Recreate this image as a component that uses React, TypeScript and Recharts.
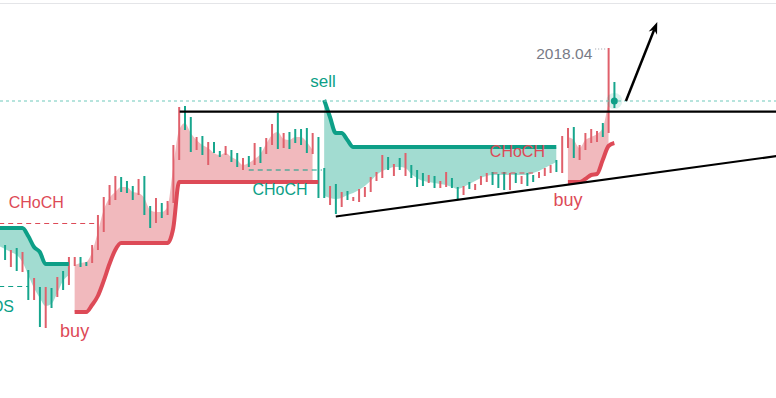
import React from 'react';
import {
  ComposedChart,
  Bar,
  Cell,
  Line,
  Area,
  XAxis,
  YAxis,
  ReferenceLine,
  ReferenceDot,
} from 'recharts';

// ---------- data ----------
// candle index 0..105, price values
const candleHigh = [
  1821, 1816, 1818, 1814, 1796, 1788, 1779, 1779, 1778, 1789,
  1795, 1809, 1809, 1809, 1804, 1821, 1851, 1869, 1881, 1890,
  1889, 1885, 1880, 1887, 1890, 1860, 1868, 1863, 1865, 1921,
  1959, 1960, 1949, 1929, 1930, 1924, 1924, 1915, 1920, 1916,
  1913, 1908, 1910, 1923, 1919, 1928, 1942, 1953, 1933, 1934,
  1937, 1937, 1938, 1933, 1929, 1898, 1880, 1882, 1874, 1875,
  1869, 1877, 1879, 1889, 1894, 1911, 1909, 1902, 1908, 1913,
  1901, 1896, 1893, 1891, 1890, 1885, 1894, 1888, 1879, 1880,
  1884, 1882, 1890, 1893, 1894, 1892, 1894, 1893, 1893, 1890,
  1893, 1891, 1894, 1898, 1901, 1906, 1930, 1938, 1939, 1921,
  1933, 1937, 1935, 1943, 2018, 1984,
];
const candleLow = [
  1806, 1799, 1795, 1794, 1766, 1766, 1739, 1738, 1758, 1769,
  1776, 1781, 1800, 1799, 1800, 1803, 1816, 1834, 1861, 1866,
  1874, 1873, 1866, 1871, 1851, 1838, 1843, 1848, 1851, 1863,
  1906, 1936, 1914, 1916, 1911, 1901, 1913, 1909, 1911, 1904,
  1899, 1896, 1899, 1901, 1903, 1912, 1921, 1917, 1918, 1917,
  1923, 1921, 1913, 1912, 1868, 1868, 1861, 1852, 1859, 1866,
  1865, 1864, 1869, 1874, 1885, 1888, 1896, 1890, 1896, 1890,
  1888, 1879, 1880, 1883, 1878, 1878, 1879, 1878, 1866, 1871,
  1877, 1876, 1881, 1884, 1881, 1878, 1876, 1876, 1883, 1882,
  1880, 1884, 1888, 1890, 1893, 1894, 1893, 1918, 1908, 1906,
  1916, 1923, 1924, 1929, 1933, 1958,
];
// t = bullish (teal), r = bearish (red)
const candleSide = (
  'trtrtrtrtr' + 'trrttrrrrr' + 'tttrttrtrr' + 'rttrtrttrt' + 'trtrtrrtrt' +
  'tttrttrtrt' + 'rrrrrrtrtr' + 'tttrtrrttr' + 'trrrtttrtr' + 'ttrrrtrrtr' + 'rrrtrt'
).split('');

// trailing levels (start index + values)
const tealStopAStart = -1;
const tealStopA = [1838, 1838, 1838, 1838, 1838, 1830, 1819, 1814, 1802, 1802, 1802, 1802, 1802];
const tealCurveA = [1820, 1817, 1814, 1811, 1804, 1791, 1778, 1768, 1760, 1762, 1773, 1785, 1791];

const redStopAStart = 12;
const redStopA = [
  1754, 1754, 1754, 1761, 1770, 1785, 1802, 1816, 1823, 1823,
  1823, 1823, 1823, 1823, 1823, 1823, 1823, 1838, 1884, 1884,
  1884, 1884, 1884, 1884, 1884, 1884, 1884, 1884, 1884, 1884,
  1884, 1884, 1884, 1884, 1884, 1884, 1884, 1884, 1884, 1884,
  1884, 1884, 1884,
];
const redCurveA = [
  1801, 1803, 1804, 1814, 1834, 1856, 1868, 1874, 1879, 1879,
  1874, 1873, 1868, 1856, 1854, 1854, 1859, 1899, 1936, 1943,
  1933, 1926, 1921, 1918, 1913, 1911, 1913, 1909, 1906, 1901,
  1903, 1907, 1912, 1922, 1931, 1934, 1927, 1926, 1929, 1929,
  1924, 1916,
];

const tealStopBStart = 55;
const tealStopB = [
  1966, 1949, 1933, 1933, 1926, 1919, 1919, 1919, 1919, 1919,
  1919, 1919, 1919, 1919, 1919, 1919, 1919, 1919, 1919, 1919,
  1919, 1919, 1919, 1919, 1919, 1919, 1919, 1919, 1919, 1919,
  1919, 1919, 1919, 1919, 1919, 1919, 1919, 1919, 1919, 1919,
  1919,
];
const tealCurveB = [
  1870, 1868, 1867, 1868, 1871, 1873, 1876, 1880, 1885, 1891,
  1895, 1897, 1899, 1899, 1898, 1892, 1888, 1885, 1884, 1883,
  1882, 1881, 1879, 1877, 1879, 1882, 1885, 1888, 1890, 1891,
  1891, 1891, 1891, 1891, 1891, 1891, 1893, 1895, 1898, 1901,
  1904,
];

const redStopBStart = 97;
const redStopB = [1884, 1884, 1884, 1887, 1891, 1892, 1906, 1920, 1923];
const redCurveB = [1929, 1926, 1918, 1926, 1929, 1932, 1938, 1966];

// structure levels: [x1, x2, price]
const levelX1 = [-1, -1, 42, 84];
const levelX2 = [16, 4, 54.6, 91];
const levelPrice = [1842.5, 1779.5, 1896, 1893];
const levelSide = ['r', 't', 't', 'r'];

// drawings
const resistance = { x1: 30.1, x2: 133, price: 1954.3 };
const trendline = { x1: 57, p1: 1849.5, x2: 133, p2: 1910 };
const arrow = { x1: 107, p1: 1965, x2: 112.4, p2: 2044 };
const lastPrice = 1965;
const lastIndex = 105;

// labels
const labelText = ['CHoCH', 'BOS', 'buy', 'CHoCH', 'sell', 'CHoCH', 'buy', '2018.04'];
const labelX = [5.4, 1.55, 12, 47.4, 54.8, 88.3, 97, 101.2];
const labelPrice = [1858, 1754, 1729, 1871, 1979, 1909, 1860, 2007];
const labelKind = ['r', 'te', 'rb', 't', 'ts', 'r', 'rb', 'g'];
const leader = { x1: 101.7, x2: 103.7, price: 2017 };

// ---------- styles ----------
const W = 776;
const H = 398;
const X_DOMAIN: [number, number] = [-0.86, 132.86];
const Y_DOMAIN: [number, number] = [1668, 2066];
const TEAL = '#0d9f87';
const RED = '#dd4a57';
const TEAL_FILL = '#a2dcd1';
const RED_FILL = '#f1b9bd';
const CANDLE_TEAL = '#17a68d';
const CANDLE_RED = '#e0606b';
const FONT = "'Liberation Sans', Arial, sans-serif";

const labelStyle: Record<string, { fill: string; size: number; anchor: string }> = {
  r: { fill: RED, size: 16, anchor: 'middle' },
  rb: { fill: RED, size: 18, anchor: 'middle' },
  t: { fill: TEAL, size: 16, anchor: 'middle' },
  te: { fill: TEAL, size: 16, anchor: 'end' },
  ts: { fill: TEAL, size: 17, anchor: 'middle' },
  g: { fill: '#787b86', size: 15.5, anchor: 'end' },
};

// ---------- build tables ----------
const candles = candleHigh.map((h, i) => ({
  i,
  high: h,
  low: candleLow[i],
  up: candleSide[i] === 't',
}));

const lineRows = (start: number, vals: number[]) => vals.map((v, k) => ({ i: start + k, v }));
const fillRows = (start: number, lo: number[], hi: number[]) =>
  hi.map((_, k) => ({ i: start + k, lo: lo[k], hi: hi[k] }));

const tealLineA = lineRows(tealStopAStart, tealStopA);
const tealFillA = fillRows(tealStopAStart, tealCurveA, tealStopA);
const redLineA = lineRows(redStopAStart, redStopA);
const redFillA = fillRows(redStopAStart, redStopA, redCurveA);
const tealLineB = lineRows(tealStopBStart, tealStopB);
const tealFillB = fillRows(tealStopBStart, tealCurveB, tealStopB);
const redLineB = lineRows(redStopBStart, redStopB);
const redFillB = fillRows(redStopBStart, redStopB, redCurveB);

const rangeKey = (d: any) => [d.lo, d.hi];
const candleKey = (d: any) => [d.low, d.high];

const ArrowShape = (p: any) => {
  const { x1, y1, x2, y2 } = p;
  const ang = Math.atan2(y2 - y1, x2 - x1);
  const len = 12;
  const half = 4.5;
  const bx = x2 - len * Math.cos(ang);
  const by = y2 - len * Math.sin(ang);
  const nx = -Math.sin(ang) * half;
  const ny = Math.cos(ang) * half;
  const mx = x2 - len * 0.7 * Math.cos(ang);
  const my = y2 - len * 0.7 * Math.sin(ang);
  return (
    <g>
      <line x1={x1} y1={y1} x2={mx} y2={my} stroke="#000" strokeWidth={2.5} />
      <polygon
        points={`${x2},${y2} ${bx + nx},${by + ny} ${mx},${my} ${bx - nx},${by - ny}`}
        fill="#000"
      />
    </g>
  );
};

const fillProps = {
  type: 'monotone' as const,
  fillOpacity: 1,
  stroke: 'none',
  dot: false,
  activeDot: false,
  isAnimationActive: false,
};
const lineProps = {
  type: 'monotone' as const,
  strokeWidth: 4,
  dot: false,
  activeDot: false,
  isAnimationActive: false,
};

export default function App() {
  return (
    <div
      style={{
        position: 'absolute',
        left: 0,
        top: 0,
        width: W,
        height: H,
        background: '#fff',
        overflow: 'hidden',
      }}
    >
      <div style={{ position: 'absolute', left: 0, top: 3, width: W, height: 1, background: '#e4e5e8' }} />
      <ComposedChart width={W} height={H} data={candles} margin={{ top: 0, right: 0, bottom: 0, left: 0 }}>
        <XAxis type="number" dataKey="i" domain={X_DOMAIN} hide allowDataOverflow />
        <YAxis type="number" domain={Y_DOMAIN} hide allowDataOverflow />

        <Area data={tealFillA} dataKey={rangeKey} fill={TEAL_FILL} {...fillProps} />
        <Area data={redFillA} dataKey={rangeKey} fill={RED_FILL} {...fillProps} />
        <Area data={tealFillB} dataKey={rangeKey} fill={TEAL_FILL} {...fillProps} />
        <Area data={redFillB} dataKey={rangeKey} fill={RED_FILL} {...fillProps} />

        <Bar dataKey={candleKey} barSize={2} isAnimationActive={false} activeBar={false}>
          {candles.map((c) => (
            <Cell key={c.i} fill={c.up ? CANDLE_TEAL : CANDLE_RED} />
          ))}
        </Bar>

        <Line data={tealLineA} dataKey="v" stroke={TEAL} {...lineProps} />
        <Line data={redLineA} dataKey="v" stroke={RED} {...lineProps} />
        <Line data={tealLineB} dataKey="v" stroke={TEAL} {...lineProps} />
        <Line data={redLineB} dataKey="v" stroke={RED} {...lineProps} />

        {levelPrice.map((p, k) => (
          <ReferenceLine
            key={`lv${k}`}
            segment={[
              { x: levelX1[k], y: p },
              { x: levelX2[k], y: p },
            ]}
            stroke={levelSide[k] === 'r' ? RED : TEAL}
            strokeWidth={1.2}
            strokeDasharray="5 4"
            ifOverflow="hidden"
          />
        ))}

        <ReferenceLine y={lastPrice} stroke="#6fc9bb" strokeWidth={1} strokeDasharray="3 3" />

        <ReferenceLine
          segment={[
            { x: resistance.x1, y: resistance.price },
            { x: resistance.x2, y: resistance.price },
          ]}
          stroke="#000"
          strokeWidth={2.2}
          ifOverflow="hidden"
        />
        <ReferenceLine
          segment={[
            { x: trendline.x1, y: trendline.p1 },
            { x: trendline.x2, y: trendline.p2 },
          ]}
          stroke="#000"
          strokeWidth={2.2}
          ifOverflow="hidden"
        />
        <ReferenceLine
          segment={[
            { x: arrow.x1, y: arrow.p1 },
            { x: arrow.x2, y: arrow.p2 },
          ]}
          shape={ArrowShape}
          ifOverflow="hidden"
        />
        <ReferenceLine
          segment={[
            { x: leader.x1, y: leader.price },
            { x: leader.x2, y: leader.price },
          ]}
          stroke="#9a9ca5"
          strokeWidth={1}
          strokeDasharray="1 2"
          ifOverflow="hidden"
        />

        <ReferenceDot
          x={lastIndex}
          y={lastPrice}
          r={4}
          shape={(p: any) => (
            <g>
              <circle cx={p.cx} cy={p.cy} r={8} fill={TEAL} fillOpacity={0.15} />
              <circle cx={p.cx} cy={p.cy} r={3.5} fill={TEAL} />
            </g>
          )}
        />

        {labelText.map((t, k) => {
          const st = labelStyle[labelKind[k]];
          return (
            <ReferenceDot
              key={`lb${k}`}
              x={labelX[k]}
              y={labelPrice[k]}
              r={1}
              shape={(p: any) => (
                <text
                  x={p.cx}
                  y={p.cy}
                  textAnchor={st.anchor as any}
                  fill={st.fill}
                  fontSize={st.size}
                  fontFamily={FONT}
                >
                  {t}
                </text>
              )}
            />
          );
        })}
      </ComposedChart>
    </div>
  );
}
